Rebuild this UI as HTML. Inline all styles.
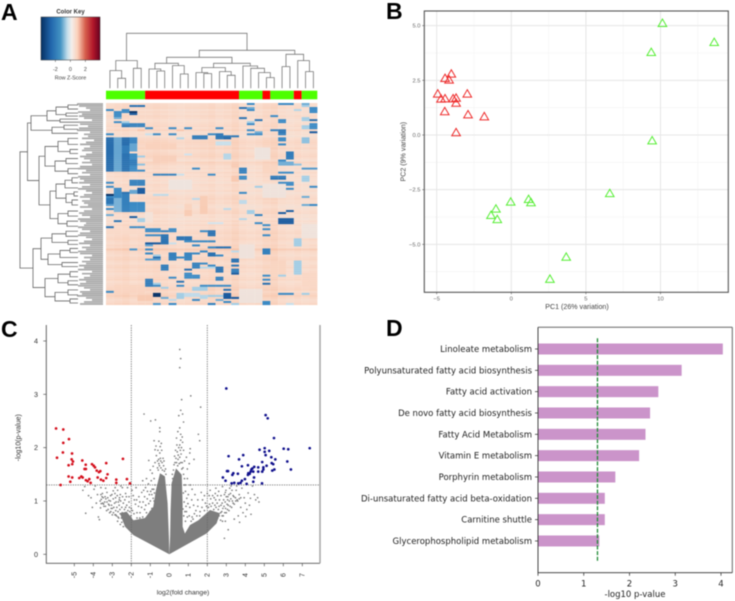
<!DOCTYPE html>
<html lang="en">
<head>
<meta charset="utf-8">
<title>Multi-panel omics figure</title>
<style>
html,body{margin:0;padding:0;background:#fff;width:735px;height:601px;overflow:hidden}
svg{display:block;filter:blur(0.45px)}
text{font-family:"Liberation Sans",sans-serif}
.dj{font-family:"DejaVu Sans",sans-serif;fill:#222}
.pl{font-family:"Liberation Sans",sans-serif;font-weight:700;font-size:23px;fill:#000}
</style>
</head>
<body>
<svg id="fig" xmlns="http://www.w3.org/2000/svg" width="735" height="601" viewBox="0 0 735 601">
<text class="pl" x="1" y="20">A</text>
<text class="pl" x="386" y="19">B</text>
<text class="pl" x="1" y="337">C</text>
<text class="pl" x="386" y="336">D</text>
<defs>
<linearGradient id="keyGrad" x1="0" x2="1" y1="0" y2="0">
<stop offset="0" stop-color="#053061"/><stop offset="0.17" stop-color="#2166ac"/><stop offset="0.33" stop-color="#4393c3"/><stop offset="0.45" stop-color="#c5dfec"/><stop offset="0.52" stop-color="#f3eeea"/><stop offset="0.62" stop-color="#fbd0b9"/><stop offset="0.75" stop-color="#d6604d"/><stop offset="0.88" stop-color="#b2182b"/><stop offset="1" stop-color="#67001f"/>
</linearGradient>
</defs>
<text x="70.5" y="13.5" text-anchor="middle" font-size="6" font-weight="700" fill="#333">Color Key</text>
<rect x="41" y="17" width="59" height="43" fill="url(#keyGrad)" stroke="#333" stroke-width="0.5"/>
<text x="70.5" y="79.5" text-anchor="middle" font-size="5.4" fill="#444">Row Z-Score</text>
<g id="root"></g>
</svg>
<script>
/* ---------- Panel A data ---------- */
const colGroups = [[0,4,'g'],[5,16,'r'],[17,19,'g'],[20,20,'r'],[21,23,'g'],[24,24,'r'],[25,26,'g']];
const keyTicks = [-2,0,2];
const colBase = [.05,.1,.15,.05,.1,.1,.15,.1,.05,0,.05,.05,.1,.15,.05,.1,.2,.05,0,.05,.15,.2,.05,0,.05,0,.05];
const rowBase = [.45,.5,.55,.4,.5,.45,.55,.5,.4,.45,.5,.55,.45,.6,.4,.45,.35,.5,.55,.6,.55,.5,.6,.45,.5,.55,.6,.5,.4,.65,.55,.45,.5,.4,.55,.45,.5,.4,.45,.35,.5,.45,.4,.5,.35,.45,.5,.55,.45,.5,.4,.35,.45,.5,.55,.4,.45,.35,.5,.4,.55,.45,.5,.55,.6,.5,.55,.6,.5,.45,.55,.5,.8,.55,.5,.45,.55,.6,.5,.45,.55,.6,.5,.55,.45,.5,.55,.6,.45,.5,.55,.6,.65,.5,.6,.7,.55,.45,.5,.6];
const heatRanges = [
[0,0,18,18,-2],[0,0,22,23,-2],[0,0,25,25,-1.5],[1,1,3,4,-2.5],[1,1,25,25,-1],[2,2,17,17,-2.5],[2,2,18,18,-1.5],[2,3,26,26,-2],[3,3,0,0,-2],[3,3,2,2,-2],[3,3,18,18,-2],[3,3,24,24,-.8],
[4,4,1,2,-2],[4,4,3,3,-3.6],[4,4,26,26,-2],[5,5,1,1,-2],[5,5,3,3,-3],[6,6,1,1,-2],[6,6,21,21,-2],[7,7,1,1,-1.5],[7,7,17,17,-2.5],[7,7,25,25,-1],[8,8,19,19,-2.5],[8,8,22,22,-2],[8,8,26,26,-2.6],[8,8,25,25,-1],
[9,9,1,1,-2],[9,9,2,2,-1],[9,9,18,18,-1],[9,9,22,22,-2],[10,10,2,2,-2],[10,11,3,4,-2.2],[10,10,18,18,-2],[10,10,26,26,-2],[11,11,2,2,-2.5],[11,11,25,25,-1],[11,12,26,26,-2],[12,12,5,5,-2],[12,12,8,8,-2],[12,12,10,10,-2],[12,12,14,14,-2],[12,12,25,25,-1],
[13,13,4,4,1],[13,13,9,9,1],[13,13,18,18,-2],[13,13,21,22,-2.2],[13,14,22,22,-2.4],[14,14,19,19,-1.5],[14,14,26,26,-3],[15,15,0,0,-2],[15,15,6,6,-2],[15,15,8,8,-2],[15,15,13,13,-2],[15,15,18,19,-2],[15,15,22,22,-2.2],[15,16,14,14,-2.4],[15,15,5,5,-.6],
[16,17,11,12,-2.3],[16,16,15,16,-2.4],[17,17,9,9,-.8],[17,18,22,22,-2],[17,19,25,25,-1.2],[17,17,14,14,-2.4],[17,17,15,15,-2.8],[20,20,22,22,-2],[19,20,14,15,-.6],
[17,33,0,0,-2.6],[17,33,1,1,-1.6],[17,20,2,2,-2.6],[21,24,2,2,-2.3],[25,33,2,2,-2.5],[17,20,3,3,-2.1],[20,23,3,3,-1.6],[25,28,3,3,-2],[28,30,3,3,-2.3],[31,33,3,3,-2],[26,26,4,4,-1],[30,30,4,4,-1.2],[33,33,4,4,-2],
[24,27,23,23,-2.3],[25,27,15,15,-.8],[28,28,22,22,-2],[29,30,22,23,-1.5],[32,32,11,11,-2],[32,32,25,26,-1.8],[33,33,17,17,-2.5],[32,34,17,17,-2.2],[34,34,22,23,-2],[30,30,24,24,-1.2],[25,25,10,10,-.5],
[35,35,6,8,-2.2],[35,35,13,13,-2],[35,35,9,9,-.6],[36,36,21,22,-2.3],[36,37,17,17,-2],[36,38,25,25,-1],[37,37,21,22,-2.5],[39,40,22,23,-2],[38,40,3,4,-2.2],[39,39,0,0,-2],[41,41,0,0,-2],[41,41,26,26,-2],[42,42,23,23,-2],[41,41,19,19,-1],
[42,46,1,1,-2],[42,44,4,4,-3],[43,44,3,3,-1.6],[44,44,2,2,-2.5],[45,45,0,0,-3.6],[45,46,2,2,-2.2],[44,44,17,17,-2],[45,45,6,7,-.7],[46,46,25,25,-1.5],[47,47,11,11,-.7],[46,47,0,0,-2],
[47,49,0,0,-2.4],[47,53,1,1,-1.4],[47,53,2,2,-2.2],[49,53,3,4,-2],[50,50,0,0,-1.7],[52,52,0,0,-2],[50,50,26,26,-2],[50,50,25,25,-1.5],[48,49,17,17,-.7],[52,52,15,15,-.7],
[53,54,18,18,-1],[53,53,23,23,-2.9],[54,54,22,22,-3],[55,55,0,0,-1.5],[55,55,19,19,-2.2],[53,55,10,10,.9],[51,54,12,12,.9],[56,56,3,3,-3],[57,58,4,4,-1],[58,58,1,1,-2.5],[57,57,17,17,-.8],[57,59,22,23,-3],[59,59,19,19,-2],[60,60,20,20,-2],[60,60,26,26,-2.5],[61,61,0,0,-2.5],[61,61,3,4,-2],[59,59,13,14,-.5],
[62,63,5,6,-2],[62,63,8,8,-2],[62,62,20,20,-2],[63,63,7,7,-2.2],[63,63,12,12,-2],[63,65,13,13,-2.5],[65,65,5,6,-2],[65,69,7,7,-2.5],[65,65,20,20,-2],[66,67,9,10,-2.5],[67,70,24,24,-1],[68,68,10,13,-2],[69,69,5,6,-3],[69,69,8,8,-.6],[70,70,11,11,-2],[70,70,5,5,-1.6],
[71,71,14,15,-2.5],[71,71,13,13,-2],[72,72,5,5,-2],[72,72,3,3,-1.8],[72,74,20,20,-2.2],[73,73,12,12,-2],[73,73,16,16,-.7],[74,74,5,5,-2],[74,77,8,8,-2.2],[74,77,10,10,-2.1],[74,74,11,11,-2],[74,75,13,13,-2.5],[75,75,6,6,-1],[75,75,14,14,-2],[76,76,6,6,-2.5],[76,76,9,9,-2],[77,77,5,6,-1.7],
[77,78,16,16,-2.5],[78,84,24,24,-1],[79,81,11,11,-2.2],[79,79,12,12,-2],[80,80,13,13,-2],[80,82,7,7,-2.3],[80,80,16,16,-2.4],[81,81,12,13,-.8],[81,83,14,14,-2.5],[82,83,16,16,-2.3],[82,82,10,10,-2.6],[84,84,16,16,-3],[84,84,10,10,-2],[85,86,10,11,-2],[85,85,20,20,-2],[85,85,22,22,-1],[86,87,14,14,-2.2],[86,86,8,8,-2],[87,87,20,20,-2],
[87,90,5,5,-2.3],[88,88,9,9,-2.5],[89,89,20,20,-2.6],[89,89,6,6,-1],[90,90,6,6,-2],[90,90,9,9,-2],[90,90,12,15,-2],[91,91,7,7,-1],[91,92,11,12,-1],[92,92,15,15,-2.5],[93,93,0,0,-2],[94,94,17,18,-2],[94,94,22,23,-2],[94,94,25,25,-1],[94,95,6,6,-3.6],[94,96,15,15,-3],[94,96,9,9,-1],[94,95,10,11,-.7],[95,96,12,12,-.8],[95,95,13,14,-1],[96,96,16,16,-3],[96,96,7,7,-1.5],[97,97,11,11,-2],[97,97,8,8,-.7],[97,97,14,14,-1.5],[98,99,20,20,-2],[98,98,15,15,-2],[99,99,8,8,-2],[99,99,16,16,-1],[99,99,6,6,-1.8],[99,99,13,13,-2.2],[99,99,23,23,-.6],
[20,22,5,8,.75],[26,28,6,8,.8],[30,31,16,16,.9],[31,33,20,21,.7],[46,50,12,12,.85],[50,52,10,10,.7],[62,64,0,4,.6],[78,84,21,22,.7],[90,93,1,4,.7],[84,90,25,26,.65],[36,38,16,16,.95],[54,58,5,5,.3],[22,27,19,20,.15],[40,46,20,22,.2],[60,66,25,26,.2],[92,98,17,19,.2],[70,76,17,18,.2],[38,42,8,10,.15],[95,97,4,5,.9]
];
const topTree = [55,[27.7,[17.7,0,[10,1,2]],[20,3,4]],[38,[31,[25,[19.3,5,[17.3,6,7]],[22.7,8,[14.3,9,10]]],[25,[20.7,[15.7,11,[14.7,12,13]],[16.7,14,[13,15,16]]],[22.3,17,[20,18,[15.7,19,[10.7,20,21]]]]]],[34,[21.7,22,23],[27.7,24,[16.7,25,26]]]]];
const sideTree = [20,[27.5,[31,[47,[56,[68,2,2],[66,2,1]],[60,2,1]],[52,[64,2,2],2]],[39,[45,[58,[68,3,3],[70,2,2]],[55,[66,3,2],[68,3,2]]],[50,[56,[65,[72,2,3],2],[66,[74,2,2],[72,2,3]]],[58,[68,3,2],[67,3,2]]]]],[33,[41,[52,[66,3,2],[68,2,2]],[48,[60,[70,2,2],3],[62,2,2]]],[45,[58,[70,3,2],[68,2,2]],[55,[68,3,2],[70,2,2]]]]];
const leafDepth = [77,79,86,90,78,82,79,84,92,78,80,88,79,77,90,84,88,82,94,86,80,90,84,82,92,86,80,84,90,82,92,80,78,86,82,90,78,80,84,79,90,82,78,86,92,84,80,90,82,84,88,80,92,84,79,82,90,78,80,86,84,78,82,90,80,78,86,92,84,79,90,82,86,78,80,92,84,90,82,86,79,84,78,92,82,90,84,79,86,80,78,84,90,80,82,77,86,92,84,80];

/* ---------- Panel B data ---------- */
const pcaRed = [[-4.93,1.88],[-4.71,1.65],[-4.44,1.66],[-4.46,1.07],[-4.44,2.59],[-4.17,2.52],[-4.02,2.79],[-3.9,1.66],[-3.7,1.69],[-3.7,1.46],[-3.7,.11],[-2.95,1.88],[-2.9,.93],[-1.81,.84]];
const pcaGreen = [[10.13,5.11],[13.6,4.24],[9.38,3.78],[9.44,-.26],[6.6,-2.67],[-.04,-3.06],[1.16,-2.94],[1.32,-3.09],[-1.03,-3.38],[-1.36,-3.67],[-.94,-3.86],[3.68,-5.58],[2.59,-6.59]];
const pcaXTicks = [-5,0,5,10];
const pcaYTicks = [5,2.5,0,-2.5,-5];
const pcaYTickLabels = ['5.0','2.5','0.0','\u22122.5','\u22125.0'];
const pcaXMinor = [-2.5,2.5,7.5,12.5];
const pcaYMinor = [3.75,1.25,-1.25,-3.75,-6.25];

/* ---------- Panel C data ---------- */
const volXTicks = [-5,-4,-3,-2,-1,0,1,2,3,4,5,6,7];
const volYTicks = [0,1,2,3,4];
const volThresholdX = [-2,2];
const volThresholdY = [1.3];
const volRed = [[-5.96,2.36],[-5.58,2.34],[-5.58,2.09],[-5.28,2.16],[-5.6,1.91],[-5.12,1.89],[-5.91,1.81],[-5.14,1.78],[-5.07,1.74],[-5.11,1.69],[-5.3,1.67],[-4.58,1.76],[-4.4,1.68],[-4.07,1.69],[-3.98,1.66],[-3.91,1.63],[-3.82,1.57],[-3.63,1.56],[-3.32,1.71],[-2.44,1.79],[-4.46,1.6],[-4.39,1.6],[-3.7,1.54],[-5.3,1.46],[-5.11,1.44],[-5.21,1.36],[-5.72,1.3],[-4.74,1.43],[-4.63,1.46],[-4.56,1.44],[-4.39,1.39],[-4.21,1.41],[-4.3,1.37],[-4.14,1.34],[-3.77,1.44],[-3.6,1.4],[-3.47,1.38],[-3.25,1.5],[-3.32,1.43],[-2.79,1.4],[-2.79,1.34],[-2.23,1.41],[-2.07,1.33]];
const volBlue = [[3,3.11],[5.07,2.61],[5.18,2.55],[5.51,2.18],[7.39,1.99],[6.02,1.98],[6.26,1.97],[5.02,1.99],[4.75,1.96],[5.02,1.92],[5.26,1.94],[5.07,1.86],[3.12,1.84],[3.89,1.86],[3.67,1.78],[5.37,1.82],[5.58,1.78],[6.21,1.74],[4.89,1.73],[5.39,1.71],[5.47,1.69],[6.4,1.59],[3.82,1.65],[4.14,1.67],[4.47,1.64],[4.68,1.63],[4.95,1.63],[5.12,1.66],[4.37,1.61],[4.32,1.59],[4.28,1.55],[4.16,1.52],[4.14,1.49],[4.23,1.51],[4.42,1.55],[4.68,1.55],[4.89,1.55],[4.95,1.59],[5.42,1.57],[5.53,1.59],[3.04,1.56],[3.09,1.56],[2.82,1.44],[2.96,1.38],[3.37,1.52],[3.32,1.49],[3.61,1.51],[3.28,1.33],[3.42,1.34],[3.63,1.33],[3.75,1.34],[3.82,1.38],[3.98,1.41],[4.07,1.32],[4.46,1.44],[4.42,1.36],[4.88,1.33]];
const volDenseLeft = [[0,0],[-1.89,.36],[-2.33,.52],[-2.6,.77],[-2.25,.8],[-1.89,.64],[-1.28,.68],[-.84,.89],[-.7,1.21],[-.49,1.52],[-.23,1.46],[-.09,.96],[-.02,.33]];
const volDenseRight = [[0,0],[1.96,.39],[2.49,.58],[2.67,.77],[2.14,.83],[1.53,.64],[1.09,.55],[.82,.39],[.7,.52],[.7,.96],[.65,1.49],[.35,1.61],[.12,1.33],[.07,.83],[.04,.33]];
const volGray = [
[.55,3.84],[.6,3.67],[.55,3.5],[.65,2.9],[1.13,2.97],[1.65,2.76],[-1.33,2.63],[.6,2.7],[.5,2.6],[.7,2.63],[.75,2.48],[-.98,2.5],[-.73,2.52],[1.53,2.25],[1.6,2.13],[-.5,2.37],[-.5,2.3],[.45,2.3],[.55,2.37],[.6,2.25],[.68,2.2],[.38,2.18],[.6,2.14],[.55,2.05],[.7,2.1],[-.8,2.13],[-.55,2.12],[-.42,2.08],[-.7,2.03],[-.75,1.96],[-.6,1.95],[-.5,1.9],[-.68,1.85],[-.47,1.8],[-.62,1.75],[-.55,1.7],[-.75,1.72],[-1.08,1.76],[1.1,1.98],[1.08,1.9],[.9,1.82],[1.3,1.78],[1.05,1.7],[.95,1.6],[.75,1.95],[.8,1.75],[.72,1.62],[.5,2],[.42,1.92],[.62,1.88],[.35,1.8],[.55,1.82],[-.85,1.65],[-.9,1.52],[-1,1.58],[-1.2,1.42],[-1.4,1.38],[-1.1,1.32],[-1.25,1.25],[-.95,1.38],[-.8,1.42],[-.75,1.3],[-1.45,1.16],[-1.6,1.08],[-1.05,1.12],[-.9,1.22],[1.1,1.3],[.95,1.42],[1.2,1.22],[.85,1.3],[1.35,1.12],[1.5,1.02],[1,1.12],[1.75,1.02],
[-.62,1.62],[-.58,1.58],[-.52,1.66],[-.44,1.62],[-.38,1.72],[-.36,1.58],[-.3,1.66],[-.26,1.56],[-.2,1.6],[-.18,1.5],[-.45,1.75],[-.56,1.78],[-.33,1.8],[-.4,1.95],[-.28,1.75],[-.48,2.02],[.3,1.72],[.25,1.68],[.22,1.58],[.28,1.84],[.38,1.72],[.46,1.78],[.52,1.7],[.6,1.72],[.66,1.6],[.68,1.72],[.44,1.66],[.33,1.95],[.47,1.86],[.4,2.05],[.58,1.95],[.64,2],[.18,1.42],[.16,1.5],[.75,1.5],[.8,1.42],[.78,1.3],[.74,1.15],[.85,1.18],[.92,1.05],[.78,.98],[.88,.9],[.98,.95],[1.08,.88],[1.18,1.02],[1.28,.92],[1.4,.82],[1.5,.9],[1.62,.8],[1.72,.88],[1.85,.82],[1.96,.9],[1.05,.72],[1.2,.7],[1.32,.76],[1.45,.72],[1.6,.72],[.76,.72],[.85,.62],[.95,.7],[.9,.8],[.82,.8],[1.15,.62],[1.25,.66],[.72,.85],
[-.78,1.15],[-.85,1.05],[-.92,1.12],[-1,1],[-1.08,.95],[-1.16,1.04],[-1.24,.92],[-1.3,.84],[-1.38,.98],[-1.46,.88],[-1.54,.78],[-1.62,.9],[-1.7,.78],[-1.78,.94],[-1.86,.76],[-1.94,.82],[-2.02,.72],[-2.1,.88],[-1.2,.78],[-1,.8],[-.92,.86],[-.95,.72],[-1.12,.7],[-1.4,.7],[-1.55,.68],[-1.7,.68],[-.8,1],[-.75,.95],[-1.3,1.08],[-1.55,.98],[-1.72,1.02],[-1.9,1.1],[-.82,1.22],[-.98,1.18],[-1.15,1.18],[-1.35,1.2],
[-2.42,.52],[-2.5,.6],[-2.58,.56],[-2.66,.68],[-2.72,.62],[-2.78,.72],[-2.86,.74],[-2.94,.78],[-3,.74],[-3.08,.8],[-3.14,.78],[-3.22,.84],[-3.3,.82],[-3.36,.9],[-3.44,.9],[-3.5,.96],[-3.58,.95],[-3.64,1],[-2.4,.62],[-2.45,.72],[-2.52,.68],[-2.6,.84],[-2.64,.92],[-2.7,.8],[-2.76,.88],[-2.82,.82],[-2.88,.96],[-2.92,.88],[-3,.86],[-3.04,.92],[-3.1,1],[-3.16,.92],[-3.24,1.06],[-3.28,.98],[-3.34,1.04],[-3.4,.98],[-3.48,1.06],[-3.54,1.08],[-3.6,1.12],[-2.3,.88],[-2.36,.84],[-2.42,.96],[-2.5,.88],[-2.56,1],[-2.62,1.06],[-2.68,.98],[-2.74,1.1],[-2.8,.98],[-2.86,1.14],[-2.95,1.04],[-3.02,1.12],[-2.24,.92],[-2.18,.82],[-2.12,.98],[-2.08,.8],[-2,.86],[-2.34,1.02],[-2.26,1.08],[-2.46,1.08],[-2.7,.7],[-2.82,.74],[-2.58,.76],[-2.48,.78],[-3.06,.86],[-3.2,.94],
[2.7,.64],[2.78,.72],[2.84,.72],[2.92,.78],[3,.78],[3.06,.84],[3.14,.82],[3.2,.9],[3.28,.88],[3.36,.96],[3.42,.94],[3.5,1],[3.6,1],[3.68,1.04],[3.76,1.06],[2.76,.8],[2.82,.86],[2.88,.9],[2.96,.86],[3.04,.94],[3.1,.92],[3.16,1],[3.24,1.04],[3.32,1],[3.4,1.08],[3.48,1.06],[2.72,.92],[2.78,.96],[2.86,1.02],[2.94,.98],[3,1.08],[3.08,1.08],[3.14,1.12],[3.22,1.14],[3.3,1.2],[2.58,.84],[2.62,.9],[2.52,.96],[2.46,.88],[2.4,.92],[2.34,.84],[2.28,.96],[2.2,.9],[2.12,.94],[2.06,.88],[2.44,1.02],[2.36,1.06],[2.54,1.1],[2.64,1.02],[2.72,1.1],[2.18,1.04],[2.1,1.1],[2.28,1.1],[2.9,1.12],[2.98,1.2],[2.62,.72],[2.7,.78],[2.55,.68],[2.8,.62],[2.6,1.18],[2.42,1.14],
[-4.4,.77],[-4.05,.88],[-4.12,1.06],[-3.96,1.22],[-3.84,.96],[-3.78,1.12],[-3.73,.7],[-3.68,.65],[-3.62,.87],[-3.58,1.03],[-3.52,1.14],[-3.46,.94],[-3.38,1.08],[-3.28,1.16],[-3.18,1.01],[-3.09,1.1],[-2.95,1.19],[-2.83,1.06],[-2.72,1.2],[-2.63,1.02],[-2.58,1.12],[-2.47,1.25],[-2.3,1.14],[-2.12,1.08],[-1.96,1.2],[-1.84,1.02],[-3.9,1.28],[-4.55,1.2],[-4.25,1.1],[-4.45,1.27],[-3.6,1.25],[-3.35,1.24],[-2.85,1.25],[-2.2,1.25],[-2.55,1.28],[-1.75,1.25],
[2.95,1.16],[3.07,1.02],[3.1,.46],[3.18,1.24],[3.36,1.1],[3.42,.66],[3.52,1.2],[3.57,1.02],[3.63,.72],[3.7,.6],[3.68,1.12],[3.76,.88],[3.82,1.24],[3.88,.78],[3.94,1.06],[4,.96],[4.02,.71],[4.08,.84],[4.15,1.15],[4.22,.92],[4.3,.75],[4.27,1.05],[4.38,1.28],[4.48,1.12],[4.55,1.02],[4.65,1.06],[4.72,.98],[1.9,.96],[2,1.14],[1.85,1.1],[1.68,1.16],[2.15,1.2],[2.45,1.24],[2.8,1.27],[3.25,1.28],[3.55,1.28],[2.9,.3],[2.95,.62]];

/* ---------- Panel D data ---------- */
const pathways = ['Linoleate metabolism','Polyunsaturated fatty acid biosynthesis','Fatty acid activation','De novo fatty acid biosynthesis','Fatty Acid Metabolism','Vitamin E metabolism','Porphyrin metabolism','Di-unsaturated fatty acid beta-oxidation','Carnitine shuttle','Glycerophospholipid metabolism'];
const pathwayValues = [4.04,3.14,2.63,2.45,2.35,2.21,1.69,1.46,1.46,1.34];
const pathTicks = [0,1,2,3,4];
const pathThreshold = [1.3];

/* ---------- helpers ---------- */
const NS = 'http://www.w3.org/2000/svg';
const root = document.getElementById('root');
function mk(tag, a, parent){
  const el = document.createElementNS(NS, tag);
  for (const k in a) el.setAttribute(k, a[k]);
  (parent || root).appendChild(el);
  return el;
}
function group(){ return mk('g', {}); }
function txt(str, a, parent){
  const el = mk('text', a, parent);
  el.textContent = str;
  return el;
}
function hex(c){ return [1,3,5].map(i=>parseInt(c.substr(i,2),16)); }

/* ---------- Panel A ---------- */
const hmX = c => 106 + c * 7.826;
const hmY = r => 103 + r * 2.02;
const keyX = z => 70.4 + z * 7.5;
keyTicks.forEach(t => {
  const tk = mk('line', {x1:keyX(t),x2:keyX(t),y1:60,y2:62,stroke:'#444','stroke-width':.5});
  
  
  const lb = txt(t, {x:keyX(t),y:71,'text-anchor':'middle','font-size':5.4,fill:'#444'});
  
  
});
const stops = [[-3.6,'#0a3468'],[-3,'#1a5a9e'],[-2,'#3c8ac4'],[-1,'#a3cde4'],[-.5,'#d3e3ec'],[0,'#e9e6e4'],[.5,'#f9ddce'],[1,'#f8c6ac'],[2,'#e08a6c']];
function zColor(z){
  if (z <= stops[0][0]) return stops[0][1];
  for (let i = 1; i < stops.length; i++){
    if (z <= stops[i][0]){
      const t = (z - stops[i-1][0]) / (stops[i][0] - stops[i-1][0]);
      const a = hex(stops[i-1][1]), b = hex(stops[i][1]);
      return 'rgb(' + a.map((v,j)=>Math.round(v + (b[j]-v)*t)).join(',') + ')';
    }
  }
  return stops[stops.length-1][1];
}
const heat = rowBase.map(rv => colBase.map(cv => rv + cv));
heatRanges.forEach(h => {
  for (let r = h[0]; r <= h[1]; r++) for (let c = h[2]; c <= h[3]; c++) heat[r][c] = h[4];
});
const heatG = group();


heat.forEach((row, r) => row.forEach((z, c) => {
  const cell = mk('rect', {x:hmX(c),y:hmY(r),width:7.9,height:2.1,fill:zColor(z)}, heatG);
  
  
}));
colGroups.forEach(g => {
  const b = mk('rect', {x:hmX(g[0]),y:90.7,width:hmX(g[1]+1)-hmX(g[0]),height:8.6,fill:g[2]==='g'?'#4dff00':'#ff0000'});
  
  
});
const dTop = group();


function drawTop(n){
  if (typeof n === 'number') return {x:hmX(n)+3.9, y:88.3};
  const a = drawTop(n[1]), b = drawTop(n[2]);
  const y = 88.3 - n[0];
  const p = mk('path', {d:`M${a.x} ${a.y}V${y}H${b.x}V${b.y}`,fill:'none',stroke:'#777','stroke-width':.8}, dTop);
  
  
  return {x:(a.x+b.x)/2, y};
}
drawTop(topTree);
const dSide = group();


let leafRow = 0;
function drawSide(n){
  if (typeof n === 'number'){
    const start = leafRow;
    for (let i = 0; i < n; i++){
      const ly = hmY(leafRow) + 1;
      const l = mk('line', {x1:leafDepth[leafRow],x2:103,y1:ly,y2:ly,stroke:'#a8a8a8','stroke-width':1.7}, dSide);
      
      
      leafRow++;
    }
    return {x:78, y:hmY(start) + n * 1.01};
  }
  const a = drawSide(n[1]), b = drawSide(n[2]);
  const p = mk('path', {d:`M${a.x} ${a.y}H${n[0]}V${b.y}H${b.x}`,fill:'none',stroke:'#666','stroke-width':.8}, dSide);
  
  
  return {x:n[0], y:(a.y+b.y)/2};
}
drawSide(sideTree);

/* ---------- Panel B ---------- */
const bx = v => 511.3 + v * 14.92;
const by = v => 135 - v * 21.87;
const B = {l:424.3,r:728.3,t:11,b:292.3};
pcaXMinor.forEach(v => {
  const g = mk('line', {x1:bx(v),x2:bx(v),y1:B.t,y2:B.b,stroke:'#f3f3f3','stroke-width':.6});
  
  
});
pcaYMinor.forEach(v => {
  const g = mk('line', {x1:B.l,x2:B.r,y1:by(v),y2:by(v),stroke:'#f3f3f3','stroke-width':.6});
  
  
});
pcaXTicks.forEach(v => {
  const g = mk('line', {x1:bx(v),x2:bx(v),y1:B.t,y2:B.b,stroke:'#e6e6e6','stroke-width':1});
  
  
  const t = mk('line', {x1:bx(v),x2:bx(v),y1:B.b,y2:B.b+2,stroke:'#555','stroke-width':.6});
  
  
  const lb = txt(v < 0 ? '\u2212' + (-v) : v, {x:bx(v),y:300.5,'text-anchor':'middle','font-size':5.8,fill:'#666'});
  
  
});
pcaYTicks.forEach((v,i) => {
  const g = mk('line', {x1:B.l,x2:B.r,y1:by(v),y2:by(v),stroke:'#e6e6e6','stroke-width':1});
  
  
  const t = mk('line', {x1:B.l-2,x2:B.l,y1:by(v),y2:by(v),stroke:'#555','stroke-width':.6});
  
  
  const lb = txt(pcaYTickLabels[i], {x:420.5,y:by(v)+2,'text-anchor':'end','font-size':5.8,fill:'#666'});
  
  
});
function tri(p, color, nm){
  const x = bx(p[0]), y = by(p[1]);
  const t = mk('path', {d:`M${x} ${y-4.2}L${x+4.3} ${y+3.2}H${x-4.3}Z`,fill:'none',stroke:color,'stroke-width':1});
  
  
}
pcaRed.forEach(p => tri(p, '#ee2a2a', 'pca-point-red'));
pcaGreen.forEach(p => tri(p, '#55ee33', 'pca-point-green'));
const bBorder = mk('rect', {x:B.l,y:B.t,width:B.r-B.l,height:B.b-B.t,fill:'none',stroke:'#555','stroke-width':1.1});


const bXT = txt('PC1 (26% variation)', {x:577,y:309,'text-anchor':'middle','font-size':7.1,fill:'#444'});


const bYT = txt('PC2 (9% variation)', {x:0,y:0,transform:'translate(405.5,151.7) rotate(-90)','text-anchor':'middle','font-size':7.1,fill:'#444'});



/* ---------- Panel C ---------- */
const cx = v => 169.3 + v * 19;
const cy = v => 554.3 - v * 53.33;
const C = {l:46.3,r:320,t:325,b:563.3};
function polyPath(pts){ return 'M' + pts.map(p => cx(p[0]).toFixed(1) + ' ' + cy(p[1]).toFixed(1)).join('L') + 'Z'; }
const dl = mk('path', {d:polyPath(volDenseLeft),fill:'#7e7e7e'});


const dr = mk('path', {d:polyPath(volDenseRight),fill:'#7e7e7e'});


volGray.forEach(p => {
  const c = mk('circle', {cx:cx(p[0]),cy:cy(p[1]),r:.85,fill:'#7e7e7e'});
  
  
});
volThresholdX.forEach(v => {
  const l = mk('line', {x1:cx(v),x2:cx(v),y1:C.t,y2:C.b,stroke:'#666','stroke-width':.8,'stroke-dasharray':'1.3 1.1'});
  
  
});
volThresholdY.forEach(v => {
  const l = mk('line', {x1:C.l,x2:C.r,y1:cy(v),y2:cy(v),stroke:'#777','stroke-width':.9,'stroke-dasharray':'1.3 1.1'});
  
  
});
volRed.forEach(p => {
  const c = mk('circle', {cx:cx(p[0]),cy:cy(p[1]),r:1.35,fill:'#d40f1c'});
  
  
});
volBlue.forEach(p => {
  const c = mk('circle', {cx:cx(p[0]),cy:cy(p[1]),r:1.35,fill:'#10108c'});
  
  
});
const cAx = mk('path', {d:`M${C.l} ${C.t}V${C.b}H${C.r}`,fill:'none',stroke:'#555','stroke-width':.9});


const cRt = mk('line', {x1:C.r,x2:C.r,y1:C.t,y2:C.b,stroke:'#a0a0a0','stroke-width':1.4});


volXTicks.forEach(v => {
  const t = mk('line', {x1:cx(v),x2:cx(v),y1:C.b,y2:C.b+3,stroke:'#555','stroke-width':.7});
  
  
  const lb = txt(v, {x:0,y:0,transform:`translate(${cx(v)+2.4},575) rotate(-90)`,'text-anchor':'middle','font-size':7,fill:'#333'});
  
  
});
volYTicks.forEach(v => {
  const t = mk('line', {x1:C.l-3,x2:C.l,y1:cy(v),y2:cy(v),stroke:'#555','stroke-width':.7});
  
  
  const lb = txt(v, {x:36,y:cy(v)+2.5,'text-anchor':'middle','font-size':7.2,fill:'#333'});
  
  
});
const cXT = txt('log2(fold change)', {x:183,y:594.5,'text-anchor':'middle','font-size':6.8,fill:'#333'});


const cYT = txt('-log10(p-value)', {x:0,y:0,transform:'translate(20.5,437.7) rotate(-90)','text-anchor':'middle','font-size':7,fill:'#333'});



/* ---------- Panel D ---------- */
const dx = v => 538 + v * 45.75;
const dy = i => 349 + i * 21.33;
const D = {l:538,r:732.3,t:327.3,b:572.7};
pathways.forEach((name, i) => {
  const b = mk('rect', {x:dx(0),y:dy(i)-5.5,width:dx(pathwayValues[i])-dx(0),height:11,fill:'#cb94ca'});
  
  
  const t = mk('line', {x1:D.l-3,x2:D.l,y1:dy(i),y2:dy(i),stroke:'#222','stroke-width':.7});
  
  
  const lb = txt(name, {x:532,y:dy(i)+3,'text-anchor':'end','font-size':8.5,class:'dj'});
  
  
});
pathThreshold.forEach(v => {
  const l = mk('line', {x1:dx(v),x2:dx(v),y1:338.3,y2:562.3,stroke:'#1f8a35','stroke-width':1.3,'stroke-dasharray':'4 1.6'});
  
  
});
pathTicks.forEach(v => {
  const t = mk('line', {x1:dx(v),x2:dx(v),y1:D.b,y2:D.b+3,stroke:'#222','stroke-width':.7});
  
  
  const lb = txt(v, {x:dx(v),y:586.5,'text-anchor':'middle','font-size':8.5,class:'dj'});
  
  
});
const dBorder = mk('path', {d:`M${D.l} ${D.t}H${D.r}M${D.r} ${D.t}V${D.b}`,fill:'none',stroke:'#666','stroke-width':1},);


const dAx = mk('path', {d:`M${D.l} ${D.t}V${D.b}H${D.r}`,fill:'none',stroke:'#333','stroke-width':.9});


const dXT = txt('-log10 p-value', {x:635,y:597,'text-anchor':'middle','font-size':8.5,class:'dj'});


</script>
</body>
</html>
